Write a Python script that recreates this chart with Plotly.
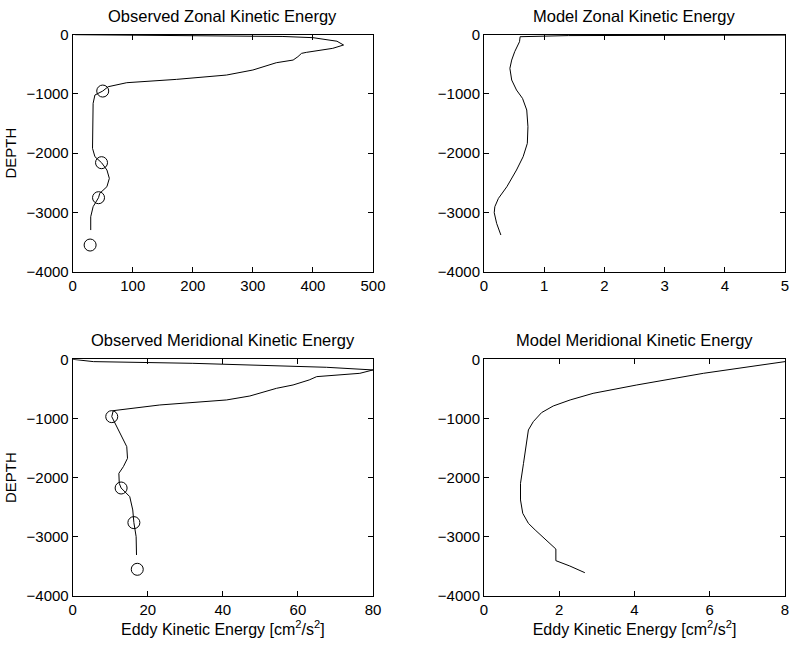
import plotly.graph_objects as go

# Observed zonal KE profile
obs_u_x = [4, 100, 200, 300, 350, 400, 440, 451, 433, 389, 381, 375, 367, 339, 300, 256, 173, 90, 59,
           50, 37, 34, 34, 33, 37, 48, 57, 61, 57, 45, 43, 34, 30, 30]
obs_u_d = [0, -8, -14, -17, -30, -50, -110, -174, -230, -298, -315, -371, -428, -473, -596, -681, -754, -810, -878,
           -951, -1018, -1159, -1440, -1918, -2059, -2160, -2284, -2425, -2565, -2678, -2751, -2903, -3072, -3297]
obs_u_pts_x = [50, 48, 43, 29]
obs_u_pts_d = [-951, -2160, -2751, -3550]

# Model zonal KE profile
mod_u_x = [8.0, 1.4, 0.6, 0.59, 0.51, 0.46, 0.43, 0.46, 0.54, 0.64, 0.71, 0.73, 0.72, 0.65, 0.54, 0.38,
           0.24, 0.18, 0.17, 0.21, 0.28]
mod_u_d = [0, -15, -34, -118, -287, -428, -568, -765, -934, -1075, -1271, -1553, -1834, -2059, -2284, -2565,
           -2762, -2903, -3004, -3184, -3381]

# Observed meridional KE profile
obs_v_x = [0, 5.5, 32, 50, 67.6, 80, 76.5, 65, 63, 58.7, 54.3, 47.2, 41, 23.2, 10.8, 10.4, 11.3, 13, 14.4,
           14.6, 13.5, 12.3, 12.4, 12.9, 15.2, 16, 16.3, 16.9, 17]
obs_v_d = [0, -39, -68, -96, -135, -180, -237, -293, -349, -434, -490, -620, -687, -772, -868, -969, -1082,
           -1307, -1476, -1673, -1814, -1927, -2096, -2175, -2321, -2546, -2760, -2997, -3307]
obs_v_pts_x = [10.4, 12.9, 16.3, 17.2]
obs_v_pts_d = [-969, -2175, -2760, -3549]

# Model meridional KE profile
mod_v_x = [8.0, 5.83, 4.06, 2.9, 2.29, 1.84, 1.53, 1.31, 1.18, 1.12, 1.05, 0.97, 0.97, 1.03, 1.18, 1.36,
           1.75, 1.91, 1.91, 2.28, 2.68]
mod_v_d = [-39, -237, -434, -575, -687, -789, -901, -1054, -1194, -1420, -1758, -2096, -2377, -2603, -2772,
           -2884, -3110, -3206, -3403, -3493, -3606]

titles = ["Observed Zonal Kinetic Energy", "Model Zonal Kinetic Energy",
          "Observed Meridional Kinetic Energy", "Model Meridional Kinetic Energy"]
x_ranges = [[0, 500], [0, 5], [0, 80], [0, 8]]
x_ticks = [[0, 100, 200, 300, 400, 500], [0, 1, 2, 3, 4, 5], [0, 20, 40, 60, 80], [0, 2, 4, 6, 8]]
y_ticks = [0, -1000, -2000, -3000, -4000]

W, H = 797, 645
x_dom = [[72.7 / W, 373 / W], [484 / W, 785 / W]]
y_dom = [[1 - 271.7 / H, 1 - 34.7 / H], [1 - 596 / H, 1 - 359.3 / H]]

font = dict(family="Liberation Sans, Arial, sans-serif", color="black")
fig = go.Figure()

lines = [(obs_u_x, obs_u_d), (mod_u_x, mod_u_d), (obs_v_x, obs_v_d), (mod_v_x, mod_v_d)]
for i, (xs, ds) in enumerate(lines):
    ax = "" if i == 0 else str(i + 1)
    fig.add_trace(go.Scatter(x=xs, y=ds, mode="lines", line=dict(color="black", width=1),
                             xaxis="x" + ax, yaxis="y" + ax, showlegend=False))

for i, (xs, ds) in [(0, (obs_u_pts_x, obs_u_pts_d)), (2, (obs_v_pts_x, obs_v_pts_d))]:
    ax = "" if i == 0 else str(i + 1)
    fig.add_trace(go.Scatter(x=xs, y=ds, mode="markers",
                             marker=dict(symbol="circle-open", size=12, color="black", line=dict(width=1)),
                             xaxis="x" + ax, yaxis="y" + ax, showlegend=False, cliponaxis=False))

axis_common = dict(showgrid=False, zeroline=False, showline=True, linecolor="black", linewidth=1,
                   mirror="ticks", ticks="inside", ticklen=5, tickcolor="black", automargin=False,
                   tickfont=dict(size=15, **font))

for i in range(4):
    row, col = divmod(i, 2)
    ax = "" if i == 0 else str(i + 1)
    xa = dict(axis_common, domain=x_dom[col], range=x_ranges[i], tickvals=x_ticks[i],
              anchor="y" + ax)
    if row == 1:
        xa["title"] = dict(text="Eddy Kinetic Energy [cm<sup>2</sup>/s<sup>2</sup>]",
                           font=dict(size=16, **font), standoff=4)
    ya = dict(axis_common, domain=y_dom[row], range=[-4000, 0], tickvals=y_ticks,
              anchor="x" + ax)
    if col == 0:
        ya["title"] = dict(text="DEPTH", font=dict(size=15, **font), standoff=6)
    fig.layout["xaxis" + ax] = xa
    fig.layout["yaxis" + ax] = ya
    fig.add_annotation(text=titles[i], xref="paper", yref="paper",
                       x=sum(x_dom[col]) / 2, y=y_dom[row][1] + 8 / H,
                       xanchor="center", yanchor="bottom", showarrow=False,
                       font=dict(size=16.5, **font))

fig.update_layout(width=W, height=H, margin=dict(l=0, r=0, t=0, b=0),
                  plot_bgcolor="white", paper_bgcolor="white", font=font)

# page body has a default margin; remove it so the figure sits at the window origin
fig.write_html("out.html", config={"displayModeBar": False},
               post_script="document.body.style.margin='0';document.body.style.overflow='hidden';")
